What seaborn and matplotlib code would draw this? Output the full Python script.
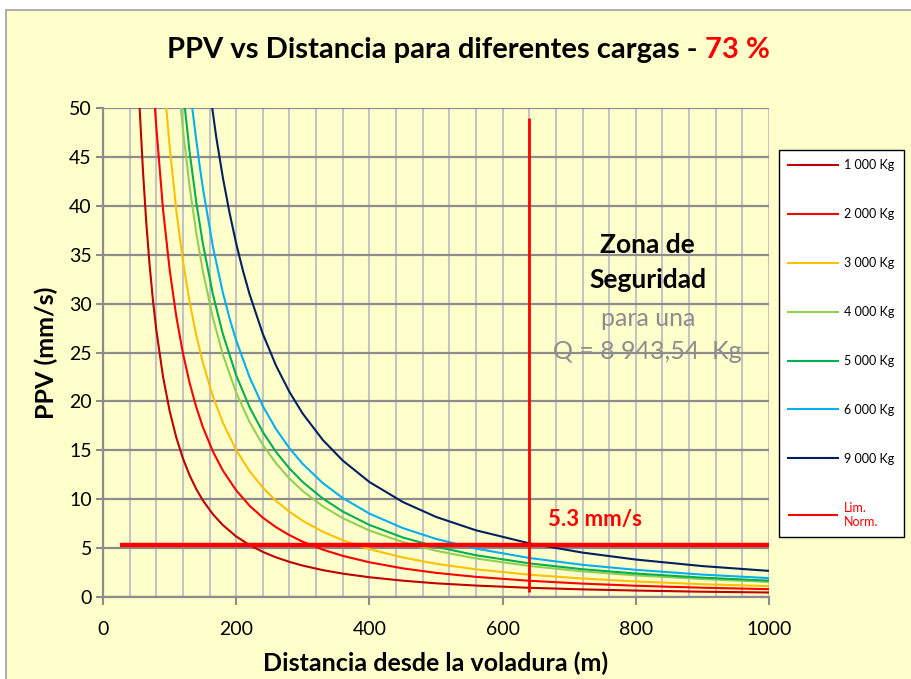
import numpy as np
import pandas as pd
import seaborn as sns
import matplotlib.pyplot as plt
from matplotlib.patches import Rectangle

# lecturas del grafico: distancia (m) y PPV (mm/s) para cada carga
dist_1000 = [55, 60, 65, 70, 75, 80, 90, 100, 110, 120, 130, 140, 150, 165, 180, 200, 220, 240, 260,
             280, 300, 330, 360, 400, 450, 500, 560, 640, 720, 800, 900, 1000]
ppv_1000 = [50, 43.56, 38.26, 33.93, 30.34, 27.33, 22.58, 19.04, 16.32, 14.17, 12.45, 11.04, 9.87, 8.46,
            7.35, 6.19, 5.31, 4.61, 4.05, 3.59, 3.21, 2.75, 2.39, 2.02, 1.67, 1.40, 1.17, 0.94, 0.78,
            0.66, 0.54, 0.46]

dist_2000 = [78, 80, 90, 100, 110, 120, 130, 140, 150, 165, 180, 200, 220, 240, 260, 280, 300, 330,
             360, 400, 450, 500, 560, 640, 720, 800, 900, 1000]
ppv_2000 = [50, 48.09, 39.73, 33.50, 28.71, 24.93, 21.90, 19.42, 17.37, 14.88, 12.93, 10.90, 9.34, 8.11,
            7.13, 6.32, 5.65, 4.84, 4.21, 3.55, 2.93, 2.47, 2.06, 1.66, 1.37, 1.15, 0.95, 0.80]

dist_3000 = [95, 100, 110, 120, 130, 140, 150, 165, 180, 200, 220, 240, 260, 280, 300, 330, 360, 400,
             450, 500, 560, 640, 720, 800, 900, 1000]
ppv_3000 = [50, 46.17, 39.56, 34.36, 30.18, 26.77, 23.94, 20.51, 17.82, 15.02, 12.87, 11.18, 9.82, 8.71,
            7.79, 6.67, 5.80, 4.89, 4.04, 3.40, 2.83, 2.28, 1.89, 1.59, 1.31, 1.11]

dist_4000 = [117, 120, 130, 140, 150, 165, 180, 200, 220, 240, 260, 280, 300, 330, 360, 400, 450, 500,
             560, 640, 720, 800, 900, 1000]
ppv_4000 = [50, 47.79, 41.98, 37.23, 33.29, 28.53, 24.78, 20.89, 17.90, 15.55, 13.66, 12.11, 10.83, 9.28,
            8.06, 6.80, 5.62, 4.73, 3.94, 3.17, 2.62, 2.21, 1.83, 1.54]

dist_5000 = [123, 130, 140, 150, 165, 180, 200, 220, 240, 260, 280, 300, 330, 360, 400, 450, 500, 560,
             640, 720, 800, 900, 1000]
ppv_5000 = [50, 45.53, 40.38, 36.11, 30.95, 26.88, 22.66, 19.42, 16.86, 14.81, 13.14, 11.75, 10.07, 8.74,
            7.37, 6.09, 5.14, 4.27, 3.44, 2.84, 2.40, 1.98, 1.67]

dist_6000 = [134, 140, 145, 150, 165, 180, 190, 200, 220, 240, 260, 280, 300, 330, 360, 400, 450, 500,
             560, 640, 720, 800, 900, 1000]
ppv_6000 = [50, 46.74, 44.16, 41.80, 35.82, 31.11, 28.50, 26.23, 22.48, 19.52, 17.15, 15.21, 13.60, 11.65,
            10.12, 8.53, 7.05, 5.94, 4.95, 3.99, 3.29, 2.78, 2.29, 1.93]

dist_9000 = [164, 170, 180, 190, 200, 210, 220, 240, 260, 280, 300, 330, 360, 400, 450, 500, 560, 640,
             720, 800, 900, 1000]
ppv_9000 = [50, 47.03, 42.87, 39.28, 36.14, 33.40, 30.97, 26.90, 23.63, 20.96, 18.74, 16.06, 13.95, 11.76,
            9.72, 8.19, 6.82, 5.49, 4.54, 3.83, 3.16, 2.67]

cargas = ["1 000 Kg", "2 000 Kg", "3 000 Kg", "4 000 Kg", "5 000 Kg", "6 000 Kg", "9 000 Kg"]
colores = ["#C00000", "#FF0000", "#FFC000", "#92D050", "#00B050", "#00B0F0", "#002060"]

# limite normativo 5.3 mm/s y distancia de seguridad
lim_x = [25, 1000]
lim_y = [5.3, 5.3]
seg_x = [640, 640]
seg_y = [0.5, 49]


def main():
    series = [(dist_1000, ppv_1000), (dist_2000, ppv_2000), (dist_3000, ppv_3000), (dist_4000, ppv_4000),
              (dist_5000, ppv_5000), (dist_6000, ppv_6000), (dist_9000, ppv_9000)]
    frames = []
    for carga, (d, p) in zip(cargas, series):
        frames.append(pd.DataFrame({"distancia": d, "ppv": p, "carga": carga}))
    df = pd.concat(frames, ignore_index=True)

    plt.rcParams['font.family'] = ['Lato', 'DejaVu Sans']
    fondo = "#FFFFCC"

    fig = plt.figure(figsize=(9.12, 6.79), dpi=100)
    fig.patch.set_facecolor("white")
    fig.patches.append(Rectangle((6 / 912, -0.02), 1.0, 1 - 10 / 679 + 0.02, transform=fig.transFigure,
                                 facecolor=fondo, edgecolor="#A0A0A0", lw=1.2, zorder=-10))
    ax = fig.add_axes([103 / 912, 1 - 597 / 679, 666 / 912, 489 / 679])
    ax.set_facecolor(fondo)

    sns.lineplot(data=df, x="distancia", y="ppv", hue="carga", hue_order=cargas,
                 palette=dict(zip(cargas, colores)), sort=False, linewidth=1.5, ax=ax)
    ax.plot(lim_x, lim_y, color="#FF0000", lw=3.2, label="Lim.\nNorm.", solid_capstyle="butt")
    ax.plot(seg_x, seg_y, color="#FF0000", lw=2, solid_capstyle="butt")

    ax.set_xlim(0, 1000)
    ax.set_ylim(0, 50)
    ax.set_yticks(np.arange(0, 51, 5))
    ax.set_xticks(np.arange(0, 1001, 200))
    ax.set_xticks(np.arange(0, 1001, 40), minor=True)
    ax.grid(axis="y", color="#8C8C8C", lw=1.6)
    ax.grid(axis="x", which="both", color="#C4C4C4", lw=1.5)
    ax.set_axisbelow(True)
    for s in ["top", "right"]:
        ax.spines[s].set_visible(False)
    for s in ["left", "bottom"]:
        ax.spines[s].set_color("#8C8C8C")
        ax.spines[s].set_linewidth(1.6)
    ax.tick_params(axis="both", which="major", color="#8C8C8C", width=1.5, labelsize=14)
    ax.tick_params(axis="x", which="major", length=6, pad=11)
    ax.tick_params(axis="y", which="major", length=5, pad=3)
    ax.tick_params(axis="x", which="minor", length=0)

    ax.set_xlabel("Distancia desde la voladura (m)", fontsize=18, fontweight="bold", labelpad=10)
    ax.set_ylabel("PPV (mm/s)", fontsize=18, fontweight="bold", labelpad=8)

    # titulo en dos colores: parte negra y "73 %" en rojo a continuacion
    y_tit = 1 - 50 / 679
    t1 = fig.text(0.5, y_tit, "PPV vs Distancia para diferentes cargas - ", fontsize=21,
                  fontweight="bold", ha="center", va="center")
    t2 = fig.text(0.5, y_tit, "73 %", fontsize=21, fontweight="bold", color="#FF0000",
                  ha="left", va="center")
    fig.canvas.draw()
    w1 = t1.get_window_extent().width
    x_ini = 167
    t1.set_x((x_ini + w1 / 2) / 912)
    t2.set_x((x_ini + w1) / 912)

    ax.text(738, 7.9, "5.3 mm/s", color="#FF0000", fontsize=16, fontweight="bold", ha="center", va="center")
    ax.text(818, 36.0, "Zona de", fontsize=19, fontweight="bold", ha="center", va="center")
    ax.text(818, 32.4, "Seguridad", fontsize=19, fontweight="bold", ha="center", va="center")
    ax.text(818, 28.5, "para una", fontsize=18, color="#8C8C8C", ha="center", va="center")
    ax.text(818, 25.1, "Q = 8 943,54  Kg", fontsize=18, color="#8C8C8C", ha="center", va="center")

    handles, labels = ax.get_legend_handles_labels()
    leg = ax.legend(handles, labels, loc="upper left", bbox_to_anchor=(779 / 912, 1 - 150 / 679),
                    bbox_transform=fig.transFigure, fontsize=9, frameon=True, fancybox=False,
                    edgecolor="black", facecolor="white", framealpha=1, handlelength=4.0,
                    handletextpad=0.45, labelspacing=2.95, borderpad=0.75, borderaxespad=0)
    leg.get_frame().set_linewidth(1.0)
    leg.get_texts()[-1].set_color("#FF0000")
    leg.legend_handles[-1].set_linewidth(1.5)

    plt.savefig("out.png", dpi=100, facecolor=fig.get_facecolor())


if __name__ == "__main__":
    main()
